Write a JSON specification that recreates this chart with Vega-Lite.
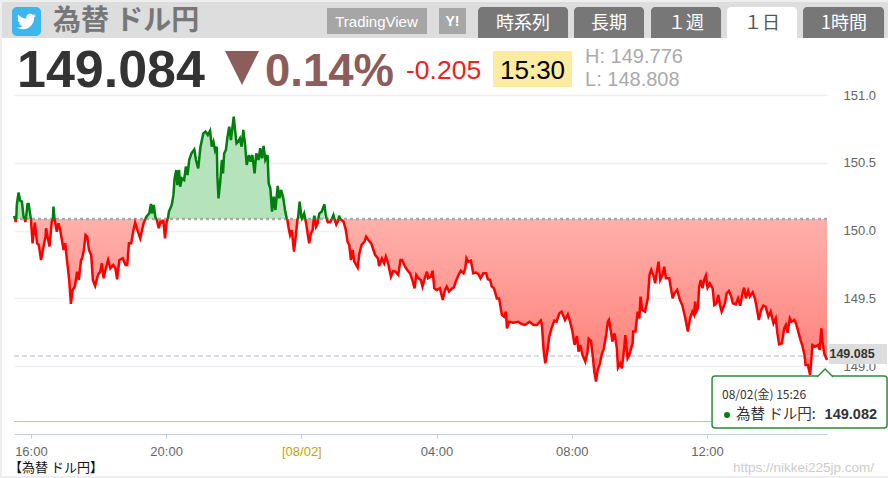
{"$schema":"https://vega.github.io/schema/vega-lite/v6.json","width":813,"height":339,"autosize":"none","padding":{"left":14,"top":95,"right":61,"bottom":44},"background":"white","config":{"view":{"stroke":null},"text":{"font":"Liberation Sans"}},
"datasets":{"one":[{}],
"up":[{"t":"2024-08-01T15:30","v":150.108},{"t":"2024-08-01T15:32","v":150.085},{"t":"2024-08-01T15:33","v":null},{"t":"2024-08-01T15:34","v":150.085},{"t":"2024-08-01T15:35","v":150.189},{"t":"2024-08-01T15:38","v":150.28},{"t":"2024-08-01T15:41","v":150.221},{"t":"2024-08-01T15:44","v":150.214},{"t":"2024-08-01T15:47","v":150.103},{"t":"2024-08-01T15:49","v":150.085},{"t":"2024-08-01T15:50","v":null},{"t":"2024-08-01T15:51","v":150.085},{"t":"2024-08-01T15:54","v":150.196},{"t":"2024-08-01T15:56","v":150.196},{"t":"2024-08-01T15:58","v":150.14},{"t":"2024-08-01T16:00","v":150.085},{"t":"2024-08-01T16:20","v":null},{"t":"2024-08-01T16:39","v":150.085},{"t":"2024-08-01T16:40","v":150.177},{"t":"2024-08-01T16:42","v":150.085},{"t":"2024-08-01T17:00","v":null},{"t":"2024-08-01T19:23","v":150.085},{"t":"2024-08-01T19:25","v":150.103},{"t":"2024-08-01T19:30","v":150.127},{"t":"2024-08-01T19:33","v":150.196},{"t":"2024-08-01T19:35","v":150.127},{"t":"2024-08-01T19:38","v":150.189},{"t":"2024-08-01T19:41","v":150.098},{"t":"2024-08-01T19:43","v":150.085},{"t":"2024-08-01T19:50","v":null},{"t":"2024-08-01T20:03","v":150.085},{"t":"2024-08-01T20:05","v":150.14},{"t":"2024-08-01T20:10","v":150.189},{"t":"2024-08-01T20:13","v":150.263},{"t":"2024-08-01T20:15","v":150.385},{"t":"2024-08-01T20:18","v":150.447},{"t":"2024-08-01T20:20","v":150.336},{"t":"2024-08-01T20:23","v":150.447},{"t":"2024-08-01T20:25","v":150.324},{"t":"2024-08-01T20:28","v":150.385},{"t":"2024-08-01T20:32","v":150.373},{"t":"2024-08-01T20:35","v":150.472},{"t":"2024-08-01T20:38","v":150.41},{"t":"2024-08-01T20:41","v":150.521},{"t":"2024-08-01T20:45","v":150.57},{"t":"2024-08-01T20:50","v":150.599},{"t":"2024-08-01T20:53","v":150.521},{"t":"2024-08-01T20:57","v":150.459},{"t":"2024-08-01T21:01","v":150.619},{"t":"2024-08-01T21:06","v":150.717},{"t":"2024-08-01T21:10","v":150.73},{"t":"2024-08-01T21:14","v":150.705},{"t":"2024-08-01T21:18","v":150.737},{"t":"2024-08-01T21:21","v":150.619},{"t":"2024-08-01T21:24","v":150.656},{"t":"2024-08-01T21:27","v":150.589},{"t":"2024-08-01T21:30","v":150.619},{"t":"2024-08-01T21:31","v":150.398},{"t":"2024-08-01T21:33","v":150.238},{"t":"2024-08-01T21:36","v":150.361},{"t":"2024-08-01T21:39","v":150.521},{"t":"2024-08-01T21:41","v":150.422},{"t":"2024-08-01T21:43","v":150.57},{"t":"2024-08-01T21:46","v":150.594},{"t":"2024-08-01T21:49","v":150.693},{"t":"2024-08-01T21:52","v":150.766},{"t":"2024-08-01T21:55","v":150.668},{"t":"2024-08-01T22:00","v":150.84},{"t":"2024-08-01T22:02","v":150.754},{"t":"2024-08-01T22:05","v":150.644},{"t":"2024-08-01T22:08","v":150.656},{"t":"2024-08-01T22:11","v":150.68},{"t":"2024-08-01T22:14","v":150.619},{"t":"2024-08-01T22:17","v":150.742},{"t":"2024-08-01T22:20","v":150.644},{"t":"2024-08-01T22:23","v":150.484},{"t":"2024-08-01T22:27","v":150.558},{"t":"2024-08-01T22:30","v":150.508},{"t":"2024-08-01T22:33","v":150.558},{"t":"2024-08-01T22:37","v":150.422},{"t":"2024-08-01T22:40","v":150.57},{"t":"2024-08-01T22:44","v":150.521},{"t":"2024-08-01T22:47","v":150.607},{"t":"2024-08-01T22:50","v":150.533},{"t":"2024-08-01T22:53","v":150.624},{"t":"2024-08-01T22:56","v":150.521},{"t":"2024-08-01T23:00","v":150.558},{"t":"2024-08-01T23:02","v":150.349},{"t":"2024-08-01T23:05","v":150.312},{"t":"2024-08-01T23:08","v":150.14},{"t":"2024-08-01T23:11","v":150.25},{"t":"2024-08-01T23:14","v":150.152},{"t":"2024-08-01T23:18","v":150.329},{"t":"2024-08-01T23:21","v":150.238},{"t":"2024-08-01T23:24","v":150.3},{"t":"2024-08-01T23:28","v":150.238},{"t":"2024-08-01T23:31","v":150.152},{"t":"2024-08-01T23:34","v":150.091},{"t":"2024-08-01T23:35","v":150.085},{"t":"2024-08-01T23:45","v":null},{"t":"2024-08-01T23:54","v":150.085},{"t":"2024-08-01T23:57","v":150.213},{"t":"2024-08-02T00:00","v":150.103},{"t":"2024-08-02T00:01","v":150.09},{"t":"2024-08-02T00:05","v":150.127},{"t":"2024-08-02T00:07","v":150.085},{"t":"2024-08-02T00:15","v":null},{"t":"2024-08-02T00:22","v":150.085},{"t":"2024-08-02T00:23","v":150.11},{"t":"2024-08-02T00:24","v":150.085},{"t":"2024-08-02T00:27","v":null},{"t":"2024-08-02T00:30","v":150.085},{"t":"2024-08-02T00:32","v":150.127},{"t":"2024-08-02T00:36","v":150.14},{"t":"2024-08-02T00:41","v":150.194},{"t":"2024-08-02T00:43","v":150.127},{"t":"2024-08-02T00:45","v":150.085},{"t":"2024-08-02T00:50","v":null},{"t":"2024-08-02T00:54","v":150.085},{"t":"2024-08-02T00:57","v":150.115},{"t":"2024-08-02T00:59","v":150.085},{"t":"2024-08-02T01:03","v":null},{"t":"2024-08-02T01:06","v":150.085},{"t":"2024-08-02T01:07","v":150.11},{"t":"2024-08-02T01:09","v":150.085}],
"down":[{"t":"2024-08-01T15:32","v":150.085},{"t":"2024-08-01T15:33","v":150.064},{"t":"2024-08-01T15:34","v":150.085},{"t":"2024-08-01T15:40","v":null},{"t":"2024-08-01T15:49","v":150.085},{"t":"2024-08-01T15:50","v":150.064},{"t":"2024-08-01T15:51","v":150.085},{"t":"2024-08-01T15:55","v":null},{"t":"2024-08-01T16:00","v":150.085},{"t":"2024-08-01T16:03","v":149.906},{"t":"2024-08-01T16:07","v":150.059},{"t":"2024-08-01T16:11","v":149.906},{"t":"2024-08-01T16:14","v":149.894},{"t":"2024-08-01T16:18","v":149.783},{"t":"2024-08-01T16:23","v":149.894},{"t":"2024-08-01T16:26","v":149.955},{"t":"2024-08-01T16:27","v":150.017},{"t":"2024-08-01T16:30","v":149.943},{"t":"2024-08-01T16:33","v":149.882},{"t":"2024-08-01T16:37","v":150.066},{"t":"2024-08-01T16:39","v":150.085},{"t":"2024-08-01T16:40","v":null},{"t":"2024-08-01T16:42","v":150.085},{"t":"2024-08-01T16:46","v":149.992},{"t":"2024-08-01T16:49","v":150.054},{"t":"2024-08-01T16:52","v":150.005},{"t":"2024-08-01T16:55","v":149.931},{"t":"2024-08-01T16:58","v":149.857},{"t":"2024-08-01T17:01","v":149.906},{"t":"2024-08-01T17:04","v":149.783},{"t":"2024-08-01T17:08","v":149.636},{"t":"2024-08-01T17:11","v":149.459},{"t":"2024-08-01T17:14","v":149.562},{"t":"2024-08-01T17:18","v":149.587},{"t":"2024-08-01T17:22","v":149.697},{"t":"2024-08-01T17:25","v":149.636},{"t":"2024-08-01T17:29","v":149.783},{"t":"2024-08-01T17:31","v":149.796},{"t":"2024-08-01T17:34","v":149.857},{"t":"2024-08-01T17:37","v":149.968},{"t":"2024-08-01T17:40","v":149.955},{"t":"2024-08-01T17:43","v":149.857},{"t":"2024-08-01T17:47","v":149.82},{"t":"2024-08-01T17:50","v":149.636},{"t":"2024-08-01T17:54","v":149.592},{"t":"2024-08-01T17:59","v":149.673},{"t":"2024-08-01T18:03","v":149.697},{"t":"2024-08-01T18:06","v":149.759},{"t":"2024-08-01T18:09","v":149.648},{"t":"2024-08-01T18:13","v":149.722},{"t":"2024-08-01T18:17","v":149.783},{"t":"2024-08-01T18:21","v":149.722},{"t":"2024-08-01T18:26","v":149.746},{"t":"2024-08-01T18:30","v":149.722},{"t":"2024-08-01T18:33","v":149.641},{"t":"2024-08-01T18:37","v":149.783},{"t":"2024-08-01T18:43","v":149.796},{"t":"2024-08-01T18:48","v":149.746},{"t":"2024-08-01T18:51","v":149.746},{"t":"2024-08-01T18:54","v":149.906},{"t":"2024-08-01T18:58","v":149.906},{"t":"2024-08-01T19:02","v":150.005},{"t":"2024-08-01T19:05","v":150.059},{"t":"2024-08-01T19:10","v":149.992},{"t":"2024-08-01T19:14","v":149.943},{"t":"2024-08-01T19:20","v":150.054},{"t":"2024-08-01T19:23","v":150.085},{"t":"2024-08-01T19:30","v":null},{"t":"2024-08-01T19:43","v":150.085},{"t":"2024-08-01T19:47","v":150.017},{"t":"2024-08-01T19:50","v":150.066},{"t":"2024-08-01T19:53","v":150.059},{"t":"2024-08-01T19:55","v":150.078},{"t":"2024-08-01T19:58","v":149.943},{"t":"2024-08-01T20:01","v":150.066},{"t":"2024-08-01T20:03","v":150.085},{"t":"2024-08-01T21:00","v":null},{"t":"2024-08-01T23:35","v":150.085},{"t":"2024-08-01T23:37","v":150.029},{"t":"2024-08-01T23:40","v":149.968},{"t":"2024-08-01T23:43","v":150.004},{"t":"2024-08-01T23:47","v":149.845},{"t":"2024-08-01T23:50","v":149.955},{"t":"2024-08-01T23:53","v":150.078},{"t":"2024-08-01T23:54","v":150.085},{"t":"2024-08-02T00:00","v":null},{"t":"2024-08-02T00:07","v":150.085},{"t":"2024-08-02T00:09","v":150.041},{"t":"2024-08-02T00:12","v":149.955},{"t":"2024-08-02T00:14","v":149.906},{"t":"2024-08-02T00:17","v":149.98},{"t":"2024-08-02T00:20","v":150.004},{"t":"2024-08-02T00:22","v":150.085},{"t":"2024-08-02T00:23","v":null},{"t":"2024-08-02T00:24","v":150.085},{"t":"2024-08-02T00:26","v":150.029},{"t":"2024-08-02T00:29","v":150.054},{"t":"2024-08-02T00:30","v":150.085},{"t":"2024-08-02T00:38","v":null},{"t":"2024-08-02T00:45","v":150.085},{"t":"2024-08-02T00:47","v":150.061},{"t":"2024-08-02T00:51","v":150.061},{"t":"2024-08-02T00:54","v":150.085},{"t":"2024-08-02T00:57","v":null},{"t":"2024-08-02T00:59","v":150.085},{"t":"2024-08-02T01:02","v":150.046},{"t":"2024-08-02T01:05","v":150.071},{"t":"2024-08-02T01:06","v":150.085},{"t":"2024-08-02T01:07","v":null},{"t":"2024-08-02T01:09","v":150.085},{"t":"2024-08-02T01:15","v":150.066},{"t":"2024-08-02T01:19","v":150.004},{"t":"2024-08-02T01:22","v":149.918},{"t":"2024-08-02T01:25","v":149.894},{"t":"2024-08-02T01:28","v":149.783},{"t":"2024-08-02T01:31","v":149.857},{"t":"2024-08-02T01:34","v":149.771},{"t":"2024-08-02T01:40","v":149.727},{"t":"2024-08-02T01:43","v":149.832},{"t":"2024-08-02T01:47","v":149.894},{"t":"2024-08-02T01:52","v":149.918},{"t":"2024-08-02T01:55","v":149.955},{"t":"2024-08-02T01:59","v":149.931},{"t":"2024-08-02T02:04","v":149.906},{"t":"2024-08-02T02:08","v":149.857},{"t":"2024-08-02T02:11","v":149.82},{"t":"2024-08-02T02:16","v":149.795},{"t":"2024-08-02T02:18","v":149.739},{"t":"2024-08-02T02:23","v":149.795},{"t":"2024-08-02T02:27","v":149.759},{"t":"2024-08-02T02:30","v":149.808},{"t":"2024-08-02T02:34","v":149.759},{"t":"2024-08-02T02:39","v":149.66},{"t":"2024-08-02T02:43","v":149.702},{"t":"2024-08-02T02:47","v":149.697},{"t":"2024-08-02T02:52","v":149.673},{"t":"2024-08-02T02:56","v":149.783},{"t":"2024-08-02T02:59","v":149.783},{"t":"2024-08-02T03:04","v":149.734},{"t":"2024-08-02T03:08","v":149.709},{"t":"2024-08-02T03:13","v":149.685},{"t":"2024-08-02T03:17","v":149.636},{"t":"2024-08-02T03:21","v":149.574},{"t":"2024-08-02T03:24","v":149.673},{"t":"2024-08-02T03:28","v":149.648},{"t":"2024-08-02T03:32","v":149.636},{"t":"2024-08-02T03:35","v":149.587},{"t":"2024-08-02T03:39","v":149.648},{"t":"2024-08-02T03:43","v":149.697},{"t":"2024-08-02T03:45","v":149.648},{"t":"2024-08-02T03:50","v":149.66},{"t":"2024-08-02T03:53","v":149.704},{"t":"2024-08-02T03:56","v":149.574},{"t":"2024-08-02T04:00","v":149.562},{"t":"2024-08-02T04:06","v":149.574},{"t":"2024-08-02T04:11","v":149.488},{"t":"2024-08-02T04:15","v":149.562},{"t":"2024-08-02T04:18","v":149.587},{"t":"2024-08-02T04:22","v":149.55},{"t":"2024-08-02T04:26","v":149.567},{"t":"2024-08-02T04:31","v":149.582},{"t":"2024-08-02T04:34","v":149.623},{"t":"2024-08-02T04:39","v":149.673},{"t":"2024-08-02T04:43","v":149.704},{"t":"2024-08-02T04:48","v":149.685},{"t":"2024-08-02T04:51","v":149.722},{"t":"2024-08-02T04:53","v":149.795},{"t":"2024-08-02T04:56","v":149.771},{"t":"2024-08-02T05:01","v":149.778},{"t":"2024-08-02T05:05","v":149.685},{"t":"2024-08-02T05:10","v":149.69},{"t":"2024-08-02T05:14","v":149.68},{"t":"2024-08-02T05:18","v":149.648},{"t":"2024-08-02T05:23","v":149.685},{"t":"2024-08-02T05:28","v":149.685},{"t":"2024-08-02T05:31","v":149.641},{"t":"2024-08-02T05:35","v":149.636},{"t":"2024-08-02T05:38","v":149.587},{"t":"2024-08-02T05:42","v":149.574},{"t":"2024-08-02T05:47","v":149.5},{"t":"2024-08-02T05:51","v":149.5},{"t":"2024-08-02T05:56","v":149.378},{"t":"2024-08-02T06:00","v":149.365},{"t":"2024-08-02T06:03","v":149.402},{"t":"2024-08-02T06:05","v":149.279},{"t":"2024-08-02T06:09","v":149.328},{"t":"2024-08-02T06:16","v":149.321},{"t":"2024-08-02T06:25","v":149.328},{"t":"2024-08-02T06:31","v":149.311},{"t":"2024-08-02T06:37","v":149.304},{"t":"2024-08-02T06:45","v":149.328},{"t":"2024-08-02T06:52","v":149.304},{"t":"2024-08-02T06:58","v":149.304},{"t":"2024-08-02T07:05","v":149.336},{"t":"2024-08-02T07:07","v":149.304},{"t":"2024-08-02T07:10","v":149.119},{"t":"2024-08-02T07:13","v":149.021},{"t":"2024-08-02T07:17","v":149.119},{"t":"2024-08-02T07:20","v":149.218},{"t":"2024-08-02T07:24","v":149.279},{"t":"2024-08-02T07:29","v":149.336},{"t":"2024-08-02T07:33","v":149.328},{"t":"2024-08-02T07:38","v":149.39},{"t":"2024-08-02T07:42","v":149.402},{"t":"2024-08-02T07:48","v":149.341},{"t":"2024-08-02T07:53","v":149.383},{"t":"2024-08-02T07:57","v":149.328},{"t":"2024-08-02T08:01","v":149.26},{"t":"2024-08-02T08:05","v":149.157},{"t":"2024-08-02T08:09","v":149.223},{"t":"2024-08-02T08:12","v":149.107},{"t":"2024-08-02T08:15","v":149.157},{"t":"2024-08-02T08:19","v":149.083},{"t":"2024-08-02T08:24","v":149.034},{"t":"2024-08-02T08:28","v":149.107},{"t":"2024-08-02T08:30","v":149.201},{"t":"2024-08-02T08:34","v":149.186},{"t":"2024-08-02T08:37","v":149.083},{"t":"2024-08-02T08:40","v":148.96},{"t":"2024-08-02T08:43","v":148.886},{"t":"2024-08-02T08:46","v":148.972},{"t":"2024-08-02T08:50","v":149.021},{"t":"2024-08-02T08:53","v":149.083},{"t":"2024-08-02T08:57","v":149.132},{"t":"2024-08-02T09:01","v":149.23},{"t":"2024-08-02T09:04","v":149.328},{"t":"2024-08-02T09:06","v":149.341},{"t":"2024-08-02T09:10","v":149.242},{"t":"2024-08-02T09:12","v":149.181},{"t":"2024-08-02T09:16","v":149.242},{"t":"2024-08-02T09:20","v":149.132},{"t":"2024-08-02T09:22","v":148.989},{"t":"2024-08-02T09:26","v":149.021},{"t":"2024-08-02T09:29","v":148.984},{"t":"2024-08-02T09:33","v":149.132},{"t":"2024-08-02T09:35","v":149.23},{"t":"2024-08-02T09:39","v":149.058},{"t":"2024-08-02T09:42","v":149.083},{"t":"2024-08-02T09:48","v":149.169},{"t":"2024-08-02T09:49","v":149.255},{"t":"2024-08-02T09:53","v":149.255},{"t":"2024-08-02T09:57","v":149.402},{"t":"2024-08-02T10:00","v":149.353},{"t":"2024-08-02T10:02","v":149.513},{"t":"2024-08-02T10:05","v":149.415},{"t":"2024-08-02T10:10","v":149.402},{"t":"2024-08-02T10:15","v":149.501},{"t":"2024-08-02T10:18","v":149.673},{"t":"2024-08-02T10:21","v":149.71},{"t":"2024-08-02T10:25","v":149.668},{"t":"2024-08-02T10:28","v":149.611},{"t":"2024-08-02T10:31","v":149.697},{"t":"2024-08-02T10:34","v":149.771},{"t":"2024-08-02T10:37","v":149.636},{"t":"2024-08-02T10:41","v":149.673},{"t":"2024-08-02T10:44","v":149.734},{"t":"2024-08-02T10:47","v":149.648},{"t":"2024-08-02T10:53","v":149.648},{"t":"2024-08-02T10:56","v":149.574},{"t":"2024-08-02T10:59","v":149.501},{"t":"2024-08-02T11:02","v":149.537},{"t":"2024-08-02T11:07","v":149.562},{"t":"2024-08-02T11:12","v":149.488},{"t":"2024-08-02T11:16","v":149.451},{"t":"2024-08-02T11:21","v":149.365},{"t":"2024-08-02T11:26","v":149.255},{"t":"2024-08-02T11:30","v":149.353},{"t":"2024-08-02T11:34","v":149.402},{"t":"2024-08-02T11:37","v":149.378},{"t":"2024-08-02T11:39","v":149.476},{"t":"2024-08-02T11:41","v":149.402},{"t":"2024-08-02T11:44","v":149.427},{"t":"2024-08-02T11:46","v":149.587},{"t":"2024-08-02T11:49","v":149.636},{"t":"2024-08-02T11:52","v":149.574},{"t":"2024-08-02T11:55","v":149.636},{"t":"2024-08-02T11:58","v":149.668},{"t":"2024-08-02T12:01","v":149.579},{"t":"2024-08-02T12:05","v":149.611},{"t":"2024-08-02T12:10","v":149.574},{"t":"2024-08-02T12:13","v":149.451},{"t":"2024-08-02T12:17","v":149.464},{"t":"2024-08-02T12:20","v":149.525},{"t":"2024-08-02T12:23","v":149.451},{"t":"2024-08-02T12:26","v":149.402},{"t":"2024-08-02T12:32","v":149.464},{"t":"2024-08-02T12:35","v":149.537},{"t":"2024-08-02T12:39","v":149.555},{"t":"2024-08-02T12:43","v":149.513},{"t":"2024-08-02T12:46","v":149.464},{"t":"2024-08-02T12:51","v":149.456},{"t":"2024-08-02T12:55","v":149.5},{"t":"2024-08-02T12:59","v":149.446},{"t":"2024-08-02T13:03","v":149.537},{"t":"2024-08-02T13:06","v":149.579},{"t":"2024-08-02T13:09","v":149.5},{"t":"2024-08-02T13:13","v":149.555},{"t":"2024-08-02T13:16","v":149.513},{"t":"2024-08-02T13:21","v":149.545},{"t":"2024-08-02T13:25","v":149.5},{"t":"2024-08-02T13:28","v":149.439},{"t":"2024-08-02T13:32","v":149.341},{"t":"2024-08-02T13:36","v":149.414},{"t":"2024-08-02T13:40","v":149.446},{"t":"2024-08-02T13:44","v":149.439},{"t":"2024-08-02T13:49","v":149.365},{"t":"2024-08-02T13:53","v":149.402},{"t":"2024-08-02T13:58","v":149.316},{"t":"2024-08-02T14:02","v":149.353},{"t":"2024-08-02T14:05","v":149.242},{"t":"2024-08-02T14:08","v":149.161},{"t":"2024-08-02T14:13","v":149.169},{"t":"2024-08-02T14:17","v":149.279},{"t":"2024-08-02T14:20","v":149.304},{"t":"2024-08-02T14:23","v":149.247},{"t":"2024-08-02T14:27","v":149.353},{"t":"2024-08-02T14:30","v":149.328},{"t":"2024-08-02T14:35","v":149.341},{"t":"2024-08-02T14:38","v":149.316},{"t":"2024-08-02T14:42","v":149.255},{"t":"2024-08-02T14:46","v":149.193},{"t":"2024-08-02T14:49","v":149.156},{"t":"2024-08-02T14:53","v":149.083},{"t":"2024-08-02T14:55","v":149.009},{"t":"2024-08-02T14:59","v":149.009},{"t":"2024-08-02T15:03","v":148.935},{"t":"2024-08-02T15:05","v":149.034},{"t":"2024-08-02T15:07","v":149.156},{"t":"2024-08-02T15:12","v":149.144},{"t":"2024-08-02T15:17","v":149.156},{"t":"2024-08-02T15:20","v":149.12},{"t":"2024-08-02T15:23","v":149.279},{"t":"2024-08-02T15:25","v":149.181},{"t":"2024-08-02T15:28","v":149.095},{"t":"2024-08-02T15:33","v":149.046}]},
"layer":[
{"data":{"name":"down"},"mark":{"type":"area","fill":{"gradient":"linear","x1":0,"y1":0,"x2":0,"y2":1,"stops":[{"offset":0,"color":"#ffb0ab"},{"offset":1,"color":"#ff7d75"}]}},"encoding":{"x":{"field":"t","type":"temporal","title":null,"scale":{"domain":["2024-08-01T15:30","2024-08-02T15:33"]},"axis":{"orient":"bottom","values":[{"year":2024,"month":8,"date":1,"hours":16},{"year":2024,"month":8,"date":1,"hours":20},{"year":2024,"month":8,"date":2,"hours":0},{"year":2024,"month":8,"date":2,"hours":4},{"year":2024,"month":8,"date":2,"hours":8},{"year":2024,"month":8,"date":2,"hours":12}],"grid":false,"domainColor":"#bcd0e4","tickColor":"#bcd0e4","tickSize":4,"labelExpr":"hours(datum.value)==0?'[08/02]':timeFormat(datum.value,'%H:%M')","labelColor":{"condition":{"test":"hours(datum.value)==0","value":"#c9a400"},"value":"#666666"},"labelFont":"Liberation Sans","labelFontSize":13,"labelPadding":7,"labelFlush":false,"labelOverlap":false}},"y":{"field":"v","type":"quantitative","title":null,"scale":{"domain":[148.5,151],"nice":false,"zero":false},"axis":{"orient":"right","values":[149,149.5,150,150.5,151],"format":".1f","grid":true,"gridColor":"#f0f0f0","gridWidth":1.5,"domain":false,"ticks":false,"labelColor":"#666666","labelFont":"Liberation Sans","labelFontSize":13,"labelPadding":16,"labelAlign":"left"}},"y2":{"datum":150.085}}},
{"data":{"name":"up"},"mark":{"type":"area","fill":"#b5e3bb"},"encoding":{"x":{"field":"t","type":"temporal"},"y":{"field":"v","type":"quantitative"},"y2":{"datum":150.085}}},
{"data":{"name":"one"},"mark":{"type":"rule","stroke":"#aaaaaa","strokeWidth":2.5,"strokeDash":[3,3]},"encoding":{"y":{"datum":150.085}}},
{"data":{"name":"one"},"mark":{"type":"rule","color":"#ffaaaa","stroke":"#ffaaaa","strokeWidth":1.2},"encoding":{"y":{"datum":148.5922}}},
{"data":{"name":"one"},"mark":{"type":"rule","stroke":"#b3b9cf","strokeWidth":1.2,"strokeDash":[5,3]},"encoding":{"y":{"datum":149.0752}}},
{"data":{"name":"down"},"mark":{"type":"line","stroke":"#ff0000","strokeWidth":2.5,"interpolate":"linear"},"encoding":{"x":{"field":"t","type":"temporal"},"y":{"field":"v","type":"quantitative"}}},
{"data":{"name":"up"},"mark":{"type":"line","stroke":"#007f0e","strokeWidth":2.5},"encoding":{"x":{"field":"t","type":"temporal"},"y":{"field":"v","type":"quantitative"}}},
{"data":{"name":"one"},"mark":{"type":"rect","fill":"#eeeeee"},"encoding":{"x":{"datum":{"year":2024,"month":8,"date":1,"hours":15,"minutes":5,"seconds":9},"type":"temporal"},"x2":{"datum":{"year":2024,"month":8,"date":1,"hours":15,"minutes":8,"seconds":42}},"y":{"datum":151.7006},"y2":{"datum":148.1755}}},
{"data":{"name":"one"},"mark":{"type":"rect","fill":"#eeeeee"},"encoding":{"x":{"datum":{"year":2024,"month":8,"date":1,"hours":15,"minutes":5,"seconds":9},"type":"temporal"},"x2":{"datum":{"year":2024,"month":8,"date":2,"hours":17,"minutes":21,"seconds":21}},"y":{"datum":148.1903},"y2":{"datum":148.1755}}},
{"data":{"name":"one"},"mark":{"type":"rect","fill":"#eeeeee"},"encoding":{"x":{"datum":{"year":2024,"month":8,"date":1,"hours":15,"minutes":5,"seconds":9},"type":"temporal"},"x2":{"datum":{"year":2024,"month":8,"date":2,"hours":17,"minutes":21,"seconds":21}},"y":{"datum":151.7006},"y2":{"datum":151.6858}}},
{"data":{"name":"one"},"mark":{"type":"rect","fill":"#dddddd"},"encoding":{"x":{"datum":{"year":2024,"month":8,"date":1,"hours":15,"minutes":8,"seconds":42},"type":"temporal"},"x2":{"datum":{"year":2024,"month":8,"date":2,"hours":17,"minutes":21,"seconds":21}},"y":{"datum":151.6858},"y2":{"datum":151.4204}}},
{"data":{"name":"one"},"mark":{"type":"rect","fill":"#3cb6ec","cornerRadius":5},"encoding":{"x":{"datum":{"year":2024,"month":8,"date":1,"hours":15,"minutes":26,"seconds":27},"type":"temporal"},"x2":{"datum":{"year":2024,"month":8,"date":1,"hours":16,"minutes":17,"seconds":56}},"y":{"datum":151.649},"y2":{"datum":151.4351}}},
{"data":{"name":"one"},"mark":{"type":"point","filled":true,"fill":"#ffffff","opacity":1,"size":2.56,"shape":"M11.953 -7.43 a10 10 0 0 1 -2.825 .775 a4.958 4.958 0 0 0 2.163 -2.723 c-.951 .555 -2.005 .959 -3.127 1.184 a4.92 4.92 0 0 0 -8.384 4.482 C-4.31 -3.905 -7.933 -5.87 -10.36 -8.838 a4.822 4.822 0 0 0 -.666 2.475 c0 1.71 .87 3.213 2.188 4.096 a4.904 4.904 0 0 1 -2.228 -.616 v.06 a4.923 4.923 0 0 0 3.946 4.827 a4.996 4.996 0 0 1 -2.212 .085 a4.936 4.936 0 0 0 4.604 3.417 a9.867 9.867 0 0 1 -6.102 2.105 c-.39 0 -.779 -.023 -1.17 -.067 a13.995 13.995 0 0 0 7.557 2.209 c9.053 0 13.998 -7.496 13.998 -13.985 c0 -.21 0 -.42 -.015 -.63 A9.935 9.935 0 0 0 12 -7.41 z"},"encoding":{"x":{"datum":{"year":2024,"month":8,"date":1,"hours":15,"minutes":52,"seconds":11},"type":"temporal"},"y":{"datum":151.542}}},
{"data":{"name":"one"},"mark":{"type":"text","text":"為替 ドル円","font":"Noto Sans CJK JP","fontWeight":"bold","fontSize":28,"align":"left","baseline":"alphabetic","fill":"#777777"},"encoding":{"x":{"datum":{"year":2024,"month":8,"date":1,"hours":16,"minutes":39,"seconds":14},"type":"temporal"},"y":{"datum":151.4794}}},
{"data":{"name":"one"},"mark":{"type":"rect","fill":"#a6a6a6"},"encoding":{"x":{"datum":{"year":2024,"month":8,"date":2,"hours":0,"minutes":45,"seconds":35},"type":"temporal"},"x2":{"datum":{"year":2024,"month":8,"date":2,"hours":3,"minutes":43,"seconds":5}},"y":{"datum":151.6416},"y2":{"datum":151.4499}}},
{"data":{"name":"one"},"mark":{"type":"text","text":"TradingView","fontSize":15,"align":"center","baseline":"middle","fill":"#ffffff"},"encoding":{"x":{"datum":{"year":2024,"month":8,"date":2,"hours":2,"minutes":13,"seconds":26},"type":"temporal"},"y":{"datum":151.542}}},
{"data":{"name":"one"},"mark":{"type":"rect","fill":"#a6a6a6"},"encoding":{"x":{"datum":{"year":2024,"month":8,"date":2,"hours":4,"minutes":4,"seconds":23},"type":"temporal"},"x2":{"datum":{"year":2024,"month":8,"date":2,"hours":4,"minutes":52,"seconds":18}},"y":{"datum":151.6416},"y2":{"datum":151.4499}}},
{"data":{"name":"one"},"mark":{"type":"text","text":"Y!","fontSize":14,"fontWeight":"bold","align":"center","baseline":"middle","fill":"#ffffff"},"encoding":{"x":{"datum":{"year":2024,"month":8,"date":2,"hours":4,"minutes":28,"seconds":20},"type":"temporal"},"y":{"datum":151.542}}},
{"data":{"name":"one"},"mark":{"type":"rect","fill":"#777777","cornerRadiusTopLeft":4,"cornerRadiusTopRight":4},"encoding":{"x":{"datum":{"year":2024,"month":8,"date":2,"hours":5,"minutes":13,"seconds":36},"type":"temporal"},"x2":{"datum":{"year":2024,"month":8,"date":2,"hours":7,"minutes":53,"seconds":21}},"y":{"datum":151.649},"y2":{"datum":151.4204}}},
{"data":{"name":"one"},"mark":{"type":"text","text":"時系列","font":"Noto Sans CJK JP","fontSize":18,"align":"center","baseline":"middle","fill":"#ffffff"},"encoding":{"x":{"datum":{"year":2024,"month":8,"date":2,"hours":6,"minutes":33,"seconds":29},"type":"temporal"},"y":{"datum":151.5236}}},
{"data":{"name":"one"},"mark":{"type":"rect","fill":"#777777","cornerRadiusTopLeft":4,"cornerRadiusTopRight":4},"encoding":{"x":{"datum":{"year":2024,"month":8,"date":2,"hours":8,"minutes":4,"seconds":0},"type":"temporal"},"x2":{"datum":{"year":2024,"month":8,"date":2,"hours":10,"minutes":8,"seconds":15}},"y":{"datum":151.649},"y2":{"datum":151.4204}}},
{"data":{"name":"one"},"mark":{"type":"text","text":"長期","font":"Noto Sans CJK JP","fontSize":18,"align":"center","baseline":"middle","fill":"#ffffff"},"encoding":{"x":{"datum":{"year":2024,"month":8,"date":2,"hours":9,"minutes":6,"seconds":8},"type":"temporal"},"y":{"datum":151.5236}}},
{"data":{"name":"one"},"mark":{"type":"rect","fill":"#777777","cornerRadiusTopLeft":4,"cornerRadiusTopRight":4},"encoding":{"x":{"datum":{"year":2024,"month":8,"date":2,"hours":10,"minutes":20,"seconds":40},"type":"temporal"},"x2":{"datum":{"year":2024,"month":8,"date":2,"hours":12,"minutes":24,"seconds":57}},"y":{"datum":151.649},"y2":{"datum":151.4204}}},
{"data":{"name":"one"},"mark":{"type":"text","text":"１週","font":"Noto Sans CJK JP","fontSize":18,"align":"center","baseline":"middle","fill":"#ffffff"},"encoding":{"x":{"datum":{"year":2024,"month":8,"date":2,"hours":11,"minutes":22,"seconds":48},"type":"temporal"},"y":{"datum":151.5236}}},
{"data":{"name":"one"},"mark":{"type":"rect","fill":"#ffffff","cornerRadiusTopLeft":4,"cornerRadiusTopRight":4},"encoding":{"x":{"datum":{"year":2024,"month":8,"date":2,"hours":12,"minutes":35,"seconds":34},"type":"temporal"},"x2":{"datum":{"year":2024,"month":8,"date":2,"hours":14,"minutes":39,"seconds":50}},"y":{"datum":151.649},"y2":{"datum":151.4204}}},
{"data":{"name":"one"},"mark":{"type":"text","text":"１日","font":"Noto Sans CJK JP","fontSize":18,"align":"center","baseline":"middle","fill":"#555555"},"encoding":{"x":{"datum":{"year":2024,"month":8,"date":2,"hours":13,"minutes":37,"seconds":42},"type":"temporal"},"y":{"datum":151.5236}}},
{"data":{"name":"one"},"mark":{"type":"rect","fill":"#777777","cornerRadiusTopLeft":4,"cornerRadiusTopRight":4},"encoding":{"x":{"datum":{"year":2024,"month":8,"date":2,"hours":14,"minutes":50,"seconds":28},"type":"temporal"},"x2":{"datum":{"year":2024,"month":8,"date":2,"hours":17,"minutes":14,"seconds":15}},"y":{"datum":151.649},"y2":{"datum":151.4204}}},
{"data":{"name":"one"},"mark":{"type":"text","text":"1時間","font":"Noto Sans CJK JP","fontSize":18,"align":"center","baseline":"middle","fill":"#ffffff"},"encoding":{"x":{"datum":{"year":2024,"month":8,"date":2,"hours":16,"minutes":3,"seconds":15},"type":"temporal"},"y":{"datum":151.5236}}},
{"data":{"name":"one"},"mark":{"type":"text","text":"149.084","fontSize":52,"fontWeight":"bold","align":"left","baseline":"alphabetic","fill":"#333333"},"encoding":{"x":{"datum":{"year":2024,"month":8,"date":1,"hours":15,"minutes":35,"seconds":19},"type":"temporal"},"y":{"datum":151.059}}},
{"data":{"name":"one"},"mark":{"type":"point","filled":true,"fill":"#8b5d5b","opacity":1,"size":1156,"shape":"M-1 -1 L1 -1 L0 1 Z"},"encoding":{"x":{"datum":{"year":2024,"month":8,"date":1,"hours":22,"minutes":14,"seconds":42},"type":"temporal"},"y":{"datum":151.1991}}},
{"data":{"name":"one"},"mark":{"type":"text","text":"0.14%","fontSize":45.5,"fontWeight":"bold","align":"left","baseline":"alphabetic","fill":"#8b5d5b"},"encoding":{"x":{"datum":{"year":2024,"month":8,"date":1,"hours":22,"minutes":55,"seconds":32},"type":"temporal"},"y":{"datum":151.0664}}},
{"data":{"name":"one"},"mark":{"type":"text","text":"-0.205","fontSize":26.5,"align":"left","baseline":"alphabetic","fill":"#ee2222"},"encoding":{"x":{"datum":{"year":2024,"month":8,"date":2,"hours":3,"minutes":5,"seconds":48},"type":"temporal"},"y":{"datum":151.118}}},
{"data":{"name":"one"},"mark":{"type":"rect","fill":"#fdeba0"},"encoding":{"x":{"datum":{"year":2024,"month":8,"date":2,"hours":5,"minutes":40,"seconds":14},"type":"temporal"},"x2":{"datum":{"year":2024,"month":8,"date":2,"hours":8,"minutes":0,"seconds":27}},"y":{"datum":151.3245},"y2":{"datum":151.059}}},
{"data":{"name":"one"},"mark":{"type":"text","text":"15:30","fontSize":26,"align":"center","baseline":"alphabetic","fill":"#000000"},"encoding":{"x":{"datum":{"year":2024,"month":8,"date":2,"hours":6,"minutes":50,"seconds":20},"type":"temporal"},"y":{"datum":151.118}}},
{"data":{"name":"one"},"mark":{"type":"text","text":"H: 149.776","fontSize":20,"align":"left","baseline":"alphabetic","fill":"#aaaaaa"},"encoding":{"x":{"datum":{"year":2024,"month":8,"date":2,"hours":8,"minutes":23,"seconds":32},"type":"temporal"},"y":{"datum":151.236}}},
{"data":{"name":"one"},"mark":{"type":"text","text":"L:  148.808","fontSize":20,"align":"left","baseline":"alphabetic","fill":"#aaaaaa"},"encoding":{"x":{"datum":{"year":2024,"month":8,"date":2,"hours":8,"minutes":23,"seconds":32},"type":"temporal"},"y":{"datum":151.0664}}},
{"data":{"name":"one"},"mark":{"type":"text","text":"【為替 ドル円】","font":"Noto Sans CJK JP","fontSize":13,"align":"left","baseline":"middle","fill":"#111111"},"encoding":{"x":{"datum":{"year":2024,"month":8,"date":1,"hours":15,"minutes":21,"seconds":7},"type":"temporal"},"y":{"datum":148.2493}}},
{"data":{"name":"one"},"mark":{"type":"text","text":"https://nikkei225jp.com/","fontSize":13.5,"align":"right","baseline":"middle","fill":"#cccccc"},"encoding":{"x":{"datum":{"year":2024,"month":8,"date":2,"hours":16,"minutes":56,"seconds":30},"type":"temporal"},"y":{"datum":148.2493}}},
{"data":{"name":"one"},"mark":{"type":"rect","fill":"#dddddd"},"encoding":{"x":{"datum":{"year":2024,"month":8,"date":2,"hours":15,"minutes":36,"seconds":37},"type":"temporal"},"x2":{"datum":{"year":2024,"month":8,"date":2,"hours":17,"minutes":19,"seconds":34}},"y":{"datum":149.1637},"y2":{"datum":149.0162}}},
{"data":{"name":"one"},"mark":{"type":"text","text":"149.085","fontSize":12.5,"fontWeight":"bold","align":"center","baseline":"middle","fill":"#333333"},"encoding":{"x":{"datum":{"year":2024,"month":8,"date":2,"hours":16,"minutes":17,"seconds":27},"type":"temporal"},"y":{"datum":149.09}}},
{"data":{"name":"one"},"mark":{"type":"rect","fill":"#ffffff","stroke":"#2e8b3a","strokeWidth":1.5,"cornerRadius":3},"encoding":{"x":{"datum":{"year":2024,"month":8,"date":2,"hours":12,"minutes":9,"seconds":0},"type":"temporal"},"x2":{"datum":{"year":2024,"month":8,"date":2,"hours":17,"minutes":19,"seconds":34}},"y":{"datum":148.9277},"y2":{"datum":148.5442}}},
{"data":{"name":"one"},"mark":{"type":"point","filled":true,"fill":"#ffffff","stroke":"#2e8b3a","strokeWidth":1.5,"opacity":1,"size":256,"shape":"M-1 .5 L0 -.5 L1 .5"},"encoding":{"x":{"datum":{"year":2024,"month":8,"date":2,"hours":15,"minutes":29,"seconds":32},"type":"temporal"},"y":{"datum":148.9499}}},
{"data":{"name":"one"},"mark":{"type":"text","text":"08/02(金) 15:26","font":"Noto Sans CJK JP","fontSize":12,"align":"left","baseline":"middle","fill":"#333333"},"encoding":{"x":{"datum":{"year":2024,"month":8,"date":2,"hours":12,"minutes":26,"seconds":42},"type":"temporal"},"y":{"datum":148.7876}}},
{"data":{"name":"one"},"mark":{"type":"point","filled":true,"fill":"#007f0e","opacity":1,"size":36,"shape":"circle"},"encoding":{"x":{"datum":{"year":2024,"month":8,"date":2,"hours":12,"minutes":35,"seconds":34},"type":"temporal"},"y":{"datum":148.6401}}},
{"data":{"name":"one"},"mark":{"type":"text","text":"為替 ドル円:","font":"Noto Sans CJK JP","fontSize":14.5,"align":"left","baseline":"middle","fill":"#333333"},"encoding":{"x":{"datum":{"year":2024,"month":8,"date":2,"hours":12,"minutes":51,"seconds":33},"type":"temporal"},"y":{"datum":148.6401}}},
{"data":{"name":"one"},"mark":{"type":"text","text":"149.082","fontSize":14.5,"fontWeight":"bold","align":"right","baseline":"middle","fill":"#333333"},"encoding":{"x":{"datum":{"year":2024,"month":8,"date":2,"hours":17,"minutes":1,"seconds":49},"type":"temporal"},"y":{"datum":148.6401}}}
]}
